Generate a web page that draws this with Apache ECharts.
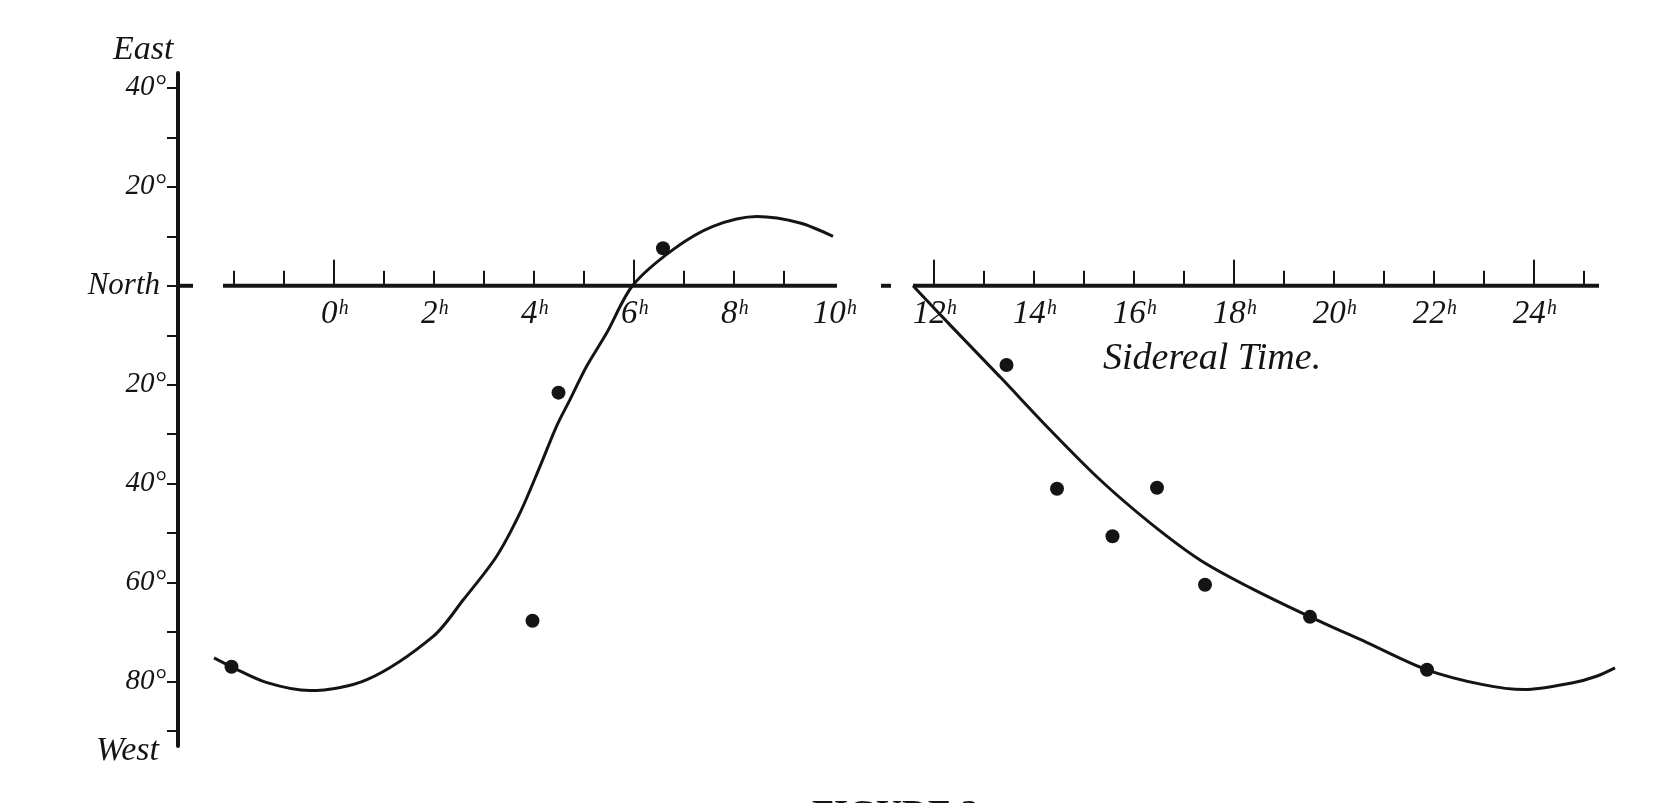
<!DOCTYPE html>
<html>
<head>
<meta charset="utf-8">
<title>Sidereal Time</title>
<script src="https://cdn.jsdelivr.net/npm/echarts@6/dist/echarts.min.js"></script>
<style>
  html, body { margin: 0; padding: 0; background: #fff; }
  #chart { width: 1663px; height: 803px; }
</style>
</head>
<body>
<div id="chart"></div>
<script>
// x: sidereal time in hours, y: degrees east (+) / west (-) of north
const hourLabels = [0, 2, 4, 6, 8, 10, 12, 14, 16, 18, 20, 22, 24];
const majorHourTicks = [0, 6, 12, 18, 24];
const minorHourTicks = [-2, -1, 1, 2, 3, 4, 5, 7, 8, 9, 13, 14, 15, 16, 17, 19, 20, 21, 22, 23, 25];
const degreeTicks = [-90, -80, -70, -60, -50, -40, -30, -20, -10, 0, 10, 20, 30, 40];
const degreeLabels = [-80, -60, -40, -20, 0, 20, 40];

const observed = [
  [-2.05, -77], [3.97, -67.7], [4.49, -21.6], [6.58, 7.6],
  [13.45, -16], [14.46, -41], [15.57, -50.6], [16.46, -40.8],
  [17.42, -60.4], [19.52, -66.9], [21.86, -77.6],
];

const curveFirst = [
  [-2.4, -75.2], [-2.05, -77], [-1.34, -80.2], [-0.48, -81.8], [0.66, -79.6],
  [1.99, -70.8], [2.59, -63.4], [3.25, -54.7], [3.72, -45.9],
  [4.12, -36.5], [4.45, -28.4], [4.72, -23], [5.05, -16.3], [5.45, -9.6],
  [5.97, 0], [6.78, 7.3], [7.58, 12], [8.46, 14], [9.32, 12.7], [9.98, 10],
];

const curveSecond = [
  [11.58, 0], [12.32, -7.9], [13.32, -18.4], [14.32, -29.1], [15.32, -39.2],
  [16.32, -47.9], [17.32, -55.4], [18.32, -61], [19.52, -66.9], [20.66, -72.1],
  [21.86, -77.6], [22.98, -80.6], [23.8, -81.6], [24.78, -80.2], [25.25, -78.9],
  [25.62, -77.2],
];

// the horizontal (north) line is drawn in pieces, with a gap near 11h
const northLinePieces = [
  [[-3.44, 0], [-2.82, 0]],
  [[-2.22, 0], [10.06, 0]],
  [[10.94, 0], [11.14, 0]],
  [[11.58, 0], [25.3, 0]],
];

const ink = '#141414';
const hand = '"Liberation Serif", "DejaVu Serif", serif';

const degreeMin = -93;
const degreeMax = 43;
const grid = { left: 178, top: 73, width: 1441, height: 673 };
// shift of the hour axes from the grid bottom up to the north (0°) line
const northOffset = -grid.height * (0 - degreeMin) / (degreeMax - degreeMin);

const chart = echarts.init(document.getElementById('chart'), null, { renderer: 'canvas' });

const hourAxis = (ticks, length, extra = {}) => ({
  type: 'value',
  min: -3.12,
  max: 25.7,
  position: 'bottom',
  offset: northOffset,
  axisLine: { show: false, onZero: false },
  axisTick: { show: true, inside: true, customValues: ticks, length, lineStyle: { color: ink, width: 2 } },
  axisLabel: { show: false },
  splitLine: { show: false },
  ...extra,
});

const curveSeries = (data) => ({
  type: 'line',
  data,
  smooth: 0.3,
  symbol: 'none',
  clip: false,
  lineStyle: { color: ink, width: 3 },
  z: 2,
});

chart.setOption({
  animation: false,
  backgroundColor: '#fff',
  grid,
  xAxis: [
    hourAxis(minorHourTicks, 15),
    hourAxis(majorHourTicks, 26, {
      axisLabel: {
        show: true,
        customValues: hourLabels,
        margin: 12,
        color: ink,
        fontFamily: hand,
        fontStyle: 'italic',
        fontSize: 33,
        formatter: (v) => `${v}ʰ`,
      },
    }),
  ],
  yAxis: {
    type: 'value',
    min: degreeMin,
    max: degreeMax,
    axisLine: { show: true, onZero: false, lineStyle: { color: ink, width: 4 } },
    axisTick: { show: true, customValues: degreeTicks, length: 11, lineStyle: { color: ink, width: 2 } },
    axisLabel: {
      customValues: degreeLabels,
      margin: 12,
      color: ink,
      fontFamily: hand,
      fontStyle: 'italic',
      fontSize: 29,
      formatter: (v) => (v === 0 ? '{n|North}' : `${Math.abs(v)}°`),
      rich: {
        n: { color: ink, fontFamily: hand, fontStyle: 'italic', fontSize: 31, padding: [0, 6, 0, 0] },
      },
    },
    splitLine: { show: false },
  },
  graphic: [
    { type: 'text', left: 113, top: 33, style: { text: 'East', font: `italic 34px ${hand}`, fill: ink } },
    { type: 'text', left: 96, top: 734, style: { text: 'West', font: `italic 34px ${hand}`, fill: ink } },
    { type: 'text', left: 1103, top: 340, style: { text: 'Sidereal Time.', font: `italic 38px ${hand}`, fill: ink } },
    { type: 'text', left: 812, top: 798, style: { text: 'FIGURE 3', font: `bold 36px ${hand}`, fill: ink } },
  ],
  series: [
    ...northLinePieces.map((piece) => ({
      type: 'line',
      data: piece,
      symbol: 'none',
      clip: false,
      silent: true,
      lineStyle: { color: ink, width: 4 },
      z: 1,
    })),
    curveSeries(curveFirst),
    curveSeries(curveSecond),
    {
      type: 'scatter',
      data: observed,
      symbolSize: 14,
      itemStyle: { color: ink, opacity: 1 },
      z: 3,
    },
  ],
});
</script>
</body>
</html>
